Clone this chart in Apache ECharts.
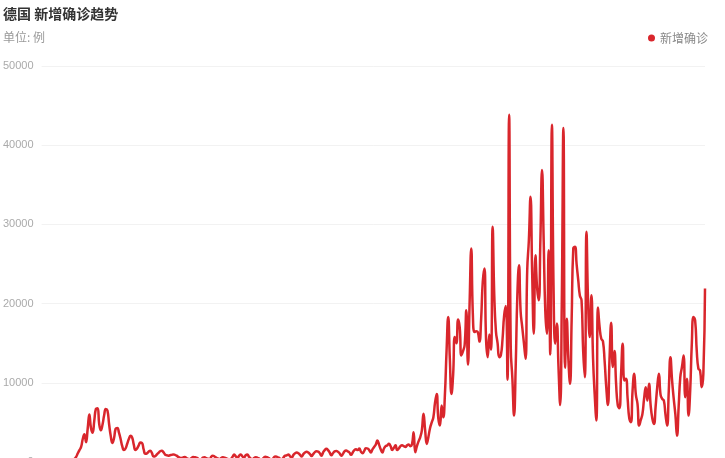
<!DOCTYPE html>
<html>
<head>
<meta charset="utf-8">
<script src="https://cdn.jsdelivr.net/npm/echarts@6/dist/echarts.min.js"></script>
<style>
html,body{margin:0;padding:0;overflow:hidden;background:#fff;}
#chart{width:725px;height:500px;}
</style>
</head>
<body>
<div id="chart"></div>
<script>
var titleText = '德国 新增确诊趋势';
var unitText = '单位: 例';
var seriesName = '新增确诊';
var startDate = '2020-02-23';
var yTicks = [0, 10000, 20000, 30000, 40000, 50000];

var newCases = [
0,0,0,0,0,0,0,0,0,0,
0,0,2,5,10,20,30,50,100,150,
400,650,1100,1500,1900,2900,3500,2500,4200,6000,
4300,3700,5200,6700,6800,4800,4000,4700,5900,6700,
6500,4800,3300,2400,3000,4200,4300,3700,2900,2000,
1500,1700,2300,2900,3300,3100,2200,1500,1700,2100,
2450,2400,1600,1050,1100,1300,1430,1150,700,750,
950,1150,1350,1430,1250,950,850,800,850,900,
950,900,800,650,550,520,580,620,500,400,
350,500,620,600,560,450,300,320,550,600,
500,420,300,650,800,700,550,450,350,500,
600,550,480,380,300,400,650,950,700,500,
800,950,700,550,850,950,650,450,350,500,
600,550,450,300,350,550,650,600,500,350,
300,550,700,650,550,400,350,600,800,850,
950,700,600,900,1100,1200,1100,900,700,1000,
1200,1300,1200,1000,750,1000,1250,1350,1300,1100,
800,1200,1500,1680,1500,1200,850,1100,1350,1400,
1300,1100,800,1000,1350,1450,1350,1200,900,1200,
1500,1600,1500,1700,1300,1100,1400,1750,1700,1500,
1200,1600,1900,2200,2700,2200,1600,1200,1700,2000,
2100,2300,2000,1500,1800,2100,1500,1700,2000,2100,
2000,1900,2100,2200,2000,2200,3750,1220,2000,2600,
3120,4000,6080,4000,2280,3200,4300,5000,5650,7500,
8600,5500,4600,7130,5650,8500,14000,18300,13000,8600,
11000,15770,15000,18000,17000,13460,14000,14800,19150,12300,
20000,26970,18500,16400,16500,16400,15200,18000,22740,24430,
15500,13240,16100,14200,29700,21000,16500,15000,13240,13500,
15500,18500,19700,10400,43840,14500,10500,5860,12000,21000,
24850,19000,17000,15000,13040,24220,28000,33500,24000,16200,
26120,22000,20420,28000,36880,28000,19000,16200,26750,13560,
42580,22000,14940,17500,12000,7200,20000,42160,11900,18100,
13000,9870,18000,27000,27170,25000,22950,21000,20420,14000,
10710,29070,20000,15770,21050,13030,8500,5230,19500,17000,
15570,15250,12820,9500,7200,13000,17570,12000,14000,9870,
7200,6800,11000,14940,10300,10500,8000,5500,5020,9000,
11140,8500,7340,4600,5300,6080,8000,9450,7760,9870,
7130,5500,4810,7000,9500,11140,8500,7970,7760,6000,
4600,9000,13240,10300,8000,6000,3330,7000,10710,12000,
13460,8180,10500,5860,9000,15000,18300,17890,14000,11770,
11560,9450,11140,21900
];

// date categories, one per daily value
var categories = [];
(function(){
  var d = new Date(startDate + 'T00:00:00Z');
  for (var i = 0; i < newCases.length; i++) {
    var m = d.getUTCMonth() + 1, day = d.getUTCDate();
    categories.push(d.getUTCFullYear() + '-' + (m < 10 ? '0' : '') + m + '-' + (day < 10 ? '0' : '') + day);
    d.setUTCDate(d.getUTCDate() + 1);
  }
})();

var chart = echarts.init(document.getElementById('chart'), null, {renderer: 'canvas'});
chart.setOption({
  animation: false,
  backgroundColor: '#fff',
  title: [
    {text: titleText, left: 3, top: 7, padding: 0,
     textStyle: {fontSize: 14, fontWeight: 'bold', color: '#333', fontFamily: 'Noto Sans CJK SC'}},
    {text: unitText, left: 3, top: 31, padding: 0,
     textStyle: {fontSize: 12, fontWeight: 'normal', color: '#999', fontFamily: 'Noto Sans CJK SC'}}
  ],
  legend: {
    data: [seriesName], right: 17, top: 32, padding: 0,
    icon: 'circle', itemWidth: 7, itemHeight: 7,
    textStyle: {fontSize: 12, color: '#888', fontFamily: 'Noto Sans CJK SC'}
  },
  grid: {left: 41, right: 20, top: 66, bottom: 38},
  xAxis: {
    type: 'category', data: categories, boundaryGap: false,
    axisLine: {lineStyle: {color: '#ddd'}}, axisTick: {show: false},
    axisLabel: {color: '#999', fontSize: 11}
  },
  yAxis: {
    type: 'value', min: yTicks[0], max: yTicks[yTicks.length - 1], interval: yTicks[1] - yTicks[0],
    axisLine: {show: false}, axisTick: {show: false},
    axisLabel: {color: '#aaa', fontSize: 11, fontFamily: 'Liberation Sans', margin: 8,
      formatter: function (v) { return String(v); }},
    splitLine: {lineStyle: {color: '#f2f2f2', width: 1}}
  },
  series: [{
    name: seriesName, type: 'line', data: newCases, smooth: true,
    showSymbol: false, symbol: 'circle',
    itemStyle: {color: '#d9262c'},
    lineStyle: {color: '#d9262c', width: 2.5}
  }]
});
</script>
</body>
</html>
